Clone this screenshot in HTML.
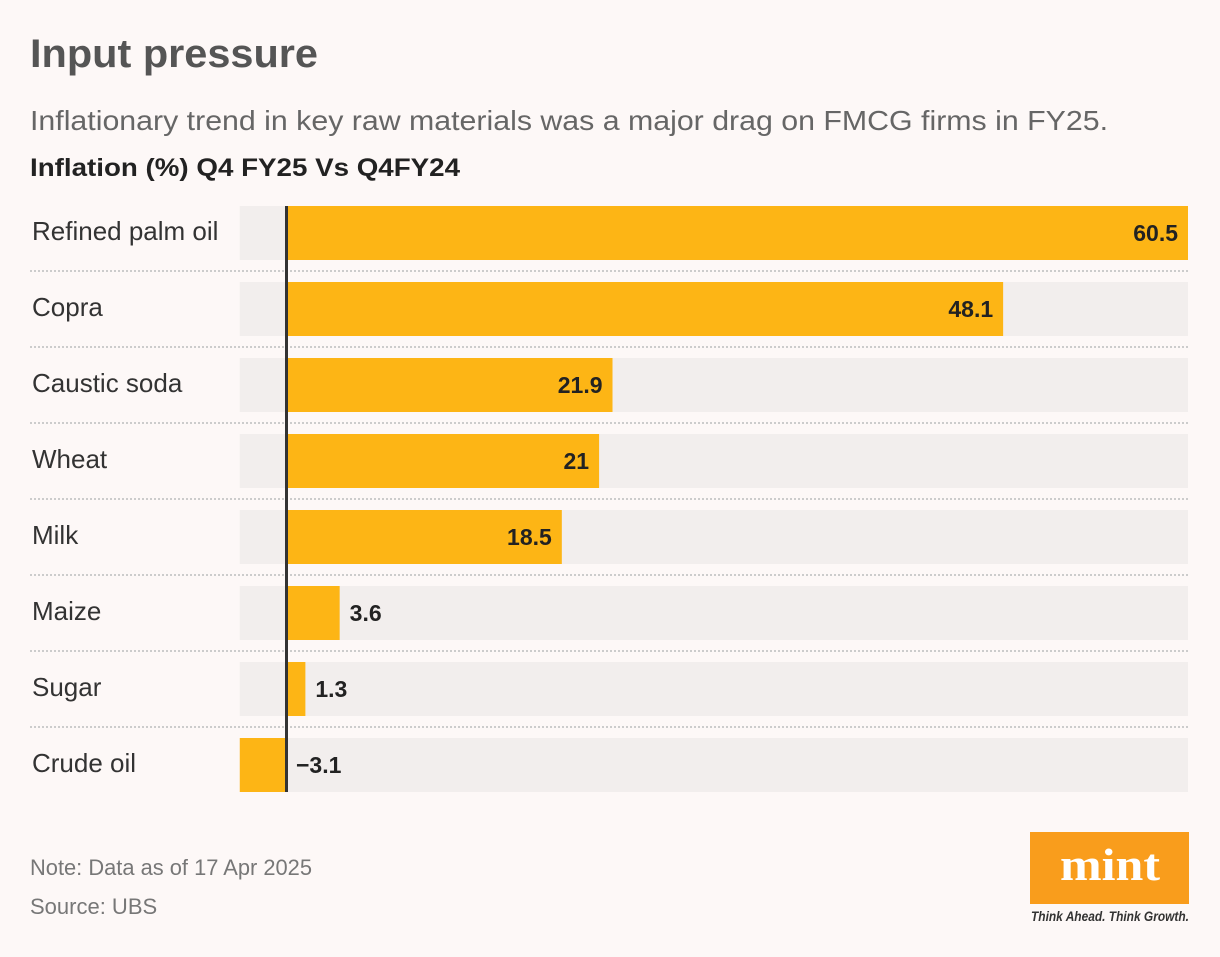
<!DOCTYPE html>
<html><head><meta charset="utf-8"><style>
body{margin:0;background:#fdf8f7;width:1220px;height:952px;overflow:hidden;font-family:"Liberation Sans",sans-serif;}
</style></head><body>
<svg width="1220" height="952">
<rect width="1220" height="952" fill="#fdf8f7"/>
<text x="30" y="67" font-size="40" font-weight="bold" fill="#555" textLength="288" lengthAdjust="spacingAndGlyphs">Input pressure</text>
<text x="30" y="130" font-size="28" fill="#666" textLength="1078" lengthAdjust="spacingAndGlyphs">Inflationary trend in key raw materials was a major drag on FMCG firms in FY25.</text>
<text x="30" y="176" font-size="25" font-weight="bold" fill="#222" textLength="430" lengthAdjust="spacingAndGlyphs">Inflation (%) Q4 FY25 Vs Q4FY24</text>
<g id="bars"></g>
<line x1="286.5" y1="206" x2="286.5" y2="792" stroke="#333" stroke-width="3"/>
<text x="30" y="875" font-size="22" fill="#777" textLength="282" lengthAdjust="spacingAndGlyphs">Note: Data as of 17 Apr 2025</text>
<text x="30" y="914" font-size="22" fill="#777">Source: UBS</text>
<g>
<rect x="1030" y="832" width="159" height="72" fill="#f99d1c"/>
<text x="1110" y="880" font-size="46" font-weight="bold" fill="#fff" text-anchor="middle" textLength="100" lengthAdjust="spacingAndGlyphs" font-family="Liberation Serif,serif">mint</text>
<text x="1031" y="921" font-size="14" font-style="italic" font-weight="bold" fill="#333" textLength="158" lengthAdjust="spacingAndGlyphs">Think Ahead. Think Growth.</text>
</g>
</svg>
<script>
const categories=["Refined palm oil","Copra","Caustic soda","Wheat","Milk","Maize","Sugar","Crude oil"];
const values=[60.5,48.1,21.9,21,18.5,3.6,1.3,-3.1];
const labels=["60.5","48.1","21.9","21","18.5","3.6","1.3","−3.1"];
const NS="http://www.w3.org/2000/svg";
const g=document.getElementById('bars');
const x0=286,xmax=1188,vmax=60.5,xmin=-3.1;
const x=v=>x0+(v/vmax)*(xmax-x0);
function mk(t,a){const e=document.createElementNS(NS,t);for(const k in a)e.setAttribute(k,a[k]);g.appendChild(e);return e;}
categories.forEach((c,i)=>{
 const top=206+i*76;
 const tr=mk('rect',{x:x(xmin),y:top,width:xmax-x(xmin),height:54,fill:'#f2eeed'});
 
 
 const v=values[i];
 const b=mk('rect',{x:Math.min(x(0),x(v)),y:top,width:Math.abs(x(v)-x(0)),height:54,fill:'#fdb515'});
 
 
 const l=mk('text',{x:32,y:top+34,'font-size':26,fill:'#333'});l.textContent=c;
 
 
 const w=x(v)-x(0);
 let vl;
 if(w>80){vl=mk('text',{x:x(v)-10,y:top+35,'font-size':23,'font-weight':'bold',fill:'#222','text-anchor':'end'});}
 else{vl=mk('text',{x:Math.max(x(v),x(0))+10,y:top+35,'font-size':23,'font-weight':'bold',fill:'#222'});}
 vl.textContent=labels[i];
 
 
 if(i<categories.length-1){
  const s=mk('line',{x1:30,x2:1188,y1:top+65,y2:top+65,stroke:'#ccc','stroke-width':2,'stroke-dasharray':'2 2'});
  
  
 }
});
</script>
</body></html>
